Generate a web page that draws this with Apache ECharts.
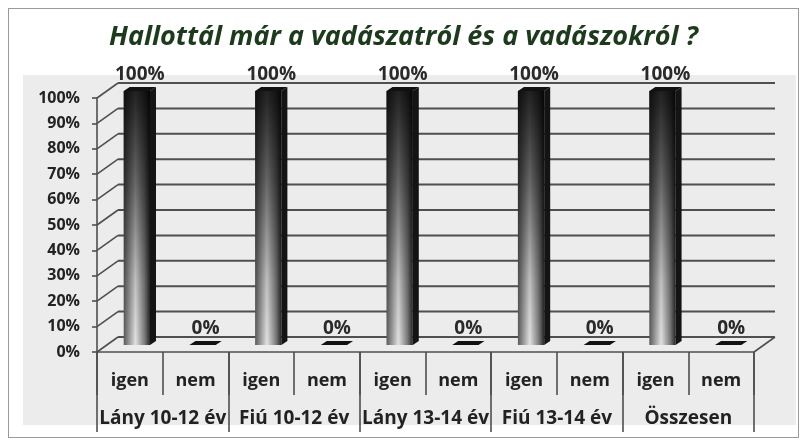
<!DOCTYPE html>
<html>
<head>
<meta charset="utf-8">
<script src="https://cdn.jsdelivr.net/npm/echarts@6/dist/echarts.min.js"></script>
<style>
  html, body { margin: 0; padding: 0; background: #fff; }
  #wrap { position: relative; width: 807px; height: 444px; background: #fff; }
  #frame { position: absolute; left: 8px; top: 8px; width: 789px; height: 428px; border: 1px solid #9a9a9a; }
  #panel { position: absolute; left: 23px; top: 75px; width: 773px; height: 350px; background: #ececec; }
  #chart { position: absolute; left: 0; top: 0; width: 807px; height: 444px; }
</style>
</head>
<body>
<div id="wrap">
  <div id="frame"></div>
  <div id="panel"></div>
  <div id="chart"></div>
</div>
<script>
// Hallottál már a vadászatról - oszlopdiagram

const groups = ['Lány 10-12 év', 'Fiú 10-12 év', 'Lány 13-14 év', 'Fiú 13-14 év', 'Összesen'];
const answers = ['igen', 'nem'];
const igenValues = [100, 100, 100, 100, 100];
const nemValues = [0, 0, 0, 0, 0];
const yTicks = [0, 10, 20, 30, 40, 50, 60, 70, 80, 90, 100];

// 3D hatás eltolásai
const DX = 21, DY = 15;   // hátsó fal
const OX = 7, OY = -7;    // oszlop eleje
const SX = 6, SY = -4;    // oszlop mélysége

const subLabels = [];
const barData = [];
groups.forEach((g, gi) => {
    subLabels.push(answers[0], answers[1]);
    barData.push([gi * 2, igenValues[gi]], [gi * 2 + 1, nemValues[gi]]);
});

const gridColor = '#4f4f4f';
const GRID = { left: 97, right: 53, top: 98, bottom: 92 };

// átlós vonalak a tengelytől a hátsó falig (első rács)
function renderSide(params, api) {
    const v = api.value(1);
    const half = api.size([1, 0])[0] / 2;
    const p = api.coord([0, v]);
    const q = api.coord([subLabels.length - 1, v]);
    const left = p[0] - half, right = q[0] + half, y = p[1];
    const children = [
        { type: 'line', shape: { x1: left, y1: y, x2: left + DX, y2: y - DY }, style: { stroke: gridColor, lineWidth: 1.6 } }
    ];
    if (v === 0) {
        children.push({ type: 'line', shape: { x1: right, y1: y, x2: right + DX, y2: y - DY }, style: { stroke: gridColor, lineWidth: 1.6 } });
    }
    return { type: 'group', children: children };
}

// hátsó fal vízszintes vonalai (eltolt rács)
function renderBack(params, api) {
    const v = api.value(1);
    const half = api.size([1, 0])[0] / 2;
    const p = api.coord([0, v]);
    const q = api.coord([subLabels.length - 1, v]);
    return {
        type: 'line',
        shape: { x1: p[0] - half, y1: p[1], x2: q[0] + half, y2: q[1] },
        style: { stroke: gridColor, lineWidth: 2 }
    };
}

function renderBar(params, api) {
    const i = api.value(0), v = api.value(1);
    const top = api.coord([i, v]);
    const base = api.coord([i, 0]);
    const bw = api.size([1, 0])[0] * 0.4;
    const fx = top[0] - bw / 2 + OX;
    const ty = top[1] + OY;
    const by = base[1] + OY;
    const children = [];
    if (by - ty > 0.5) {
        children.push({
            type: 'rect',
            shape: { x: fx, y: ty, width: bw, height: by - ty },
            style: {
                fill: new echarts.graphic.LinearGradient(0, 0, 1, 0, [
                    { offset: 0, color: '#5a5a5a' },
                    { offset: 0.45, color: '#e2e2e2' },
                    { offset: 0.8, color: '#7a7a7a' },
                    { offset: 1, color: '#262626' }
                ])
            }
        });
        children.push({
            type: 'rect',
            shape: { x: fx, y: ty, width: bw, height: by - ty },
            style: {
                fill: new echarts.graphic.LinearGradient(0, 0, 0, 1, [
                    { offset: 0, color: 'rgba(0,0,0,0.85)' },
                    { offset: 0.35, color: 'rgba(0,0,0,0.55)' },
                    { offset: 0.75, color: 'rgba(0,0,0,0.15)' },
                    { offset: 1, color: 'rgba(0,0,0,0)' }
                ])
            }
        });
        children.push({
            type: 'polygon',
            shape: { points: [[fx + bw, ty], [fx + bw + SX, ty + SY], [fx + bw + SX, by + SY], [fx + bw, by]] },
            style: { fill: '#141414' }
        });
    }
    children.push({
        type: 'polygon',
        shape: { points: [[fx, ty], [fx + SX, ty + SY], [fx + bw + SX, ty + SY], [fx + bw, ty]] },
        style: { fill: '#111' }
    });
    children.push({
        type: 'text',
        style: {
            text: v + '%',
            x: fx + bw / 2 + SX / 2,
            y: ty + SY - 3,
            align: 'center',
            verticalAlign: 'bottom',
            font: 'bold 19px "Open Sans"',
            fill: '#2a2a2a'
        }
    });
    return { type: 'group', children: children };
}

const chart = echarts.init(document.getElementById('chart'));

const option = {
    backgroundColor: 'transparent',
    animation: false,
    title: {
        text: 'Hallottál már a vadászatról és a vadászokról ?',
        left: 'center',
        top: 19,
        textStyle: {
            fontFamily: 'Open Sans',
            fontSize: 27,
            fontWeight: 'bold',
            fontStyle: 'italic',
            color: '#1d3a1d'
        }
    },
    grid: [
        GRID,
        // hátsó fal: ugyanaz a rács eltolva
        { left: GRID.left + DX, right: GRID.right - DX, top: GRID.top - DY, bottom: GRID.bottom + DY }
    ],
    xAxis: [
        {
            type: 'category',
            gridIndex: 0,
            data: subLabels,
            position: 'bottom',
            axisLine: { show: true, lineStyle: { color: gridColor, width: 1.6 } },
            axisTick: { show: true, length: 43, lineStyle: { color: gridColor, width: 1.6 } },
            axisLabel: {
                interval: 0,
                margin: 20,
                fontFamily: 'Open Sans',
                fontWeight: 'bold',
                fontSize: 18,
                color: '#222'
            },
            splitLine: { show: false }
        },
        {
            type: 'category',
            gridIndex: 0,
            data: groups,
            position: 'bottom',
            axisLine: { show: false },
            axisTick: { show: true, length: 80, lineStyle: { color: gridColor, width: 1.6 } },
            axisLabel: {
                interval: 0,
                margin: 57,
                fontFamily: 'Open Sans',
                fontWeight: 'bold',
                fontSize: 19,
                color: '#222'
            },
            splitLine: { show: false }
        },
        {
            type: 'category',
            gridIndex: 1,
            data: subLabels,
            axisLine: { show: false },
            axisTick: { show: false },
            axisLabel: { show: false },
            splitLine: { show: false }
        }
    ],
    yAxis: [
        {
            type: 'value',
            gridIndex: 0,
            min: 0,
            max: 100,
            interval: 10,
            axisLine: { show: true, lineStyle: { color: gridColor, width: 1.6 } },
            axisTick: { show: true, length: 5, lineStyle: { color: gridColor, width: 1.6 } },
            axisLabel: {
                formatter: '{value}%',
                margin: 17,
                fontFamily: 'Open Sans',
                fontWeight: 'bold',
                fontSize: 16,
                color: '#222'
            },
            splitLine: { show: false }
        },
        {
            type: 'value',
            gridIndex: 1,
            min: 0,
            max: 100,
            interval: 10,
            axisLine: { show: false },
            axisTick: { show: false },
            axisLabel: { show: false },
            splitLine: { show: false }
        }
    ],
    series: [
        {
            name: 'hátsó fal',
            type: 'custom',
            xAxisIndex: 2,
            yAxisIndex: 1,
            renderItem: renderBack,
            data: yTicks.map(v => [0, v]),
            encode: { x: 0, y: 1 },
            clip: false,
            silent: true,
            z: 1
        },
        {
            name: 'oldalfal',
            type: 'custom',
            xAxisIndex: 0,
            yAxisIndex: 0,
            renderItem: renderSide,
            data: yTicks.map(v => [0, v]),
            encode: { x: 0, y: 1 },
            clip: false,
            silent: true,
            z: 1
        },
        {
            name: 'válasz',
            type: 'custom',
            xAxisIndex: 0,
            yAxisIndex: 0,
            renderItem: renderBar,
            data: barData,
            encode: { x: 0, y: 1 },
            clip: false,
            z: 3
        }
    ]
};

chart.setOption(option);
</script>
</body>
</html>
